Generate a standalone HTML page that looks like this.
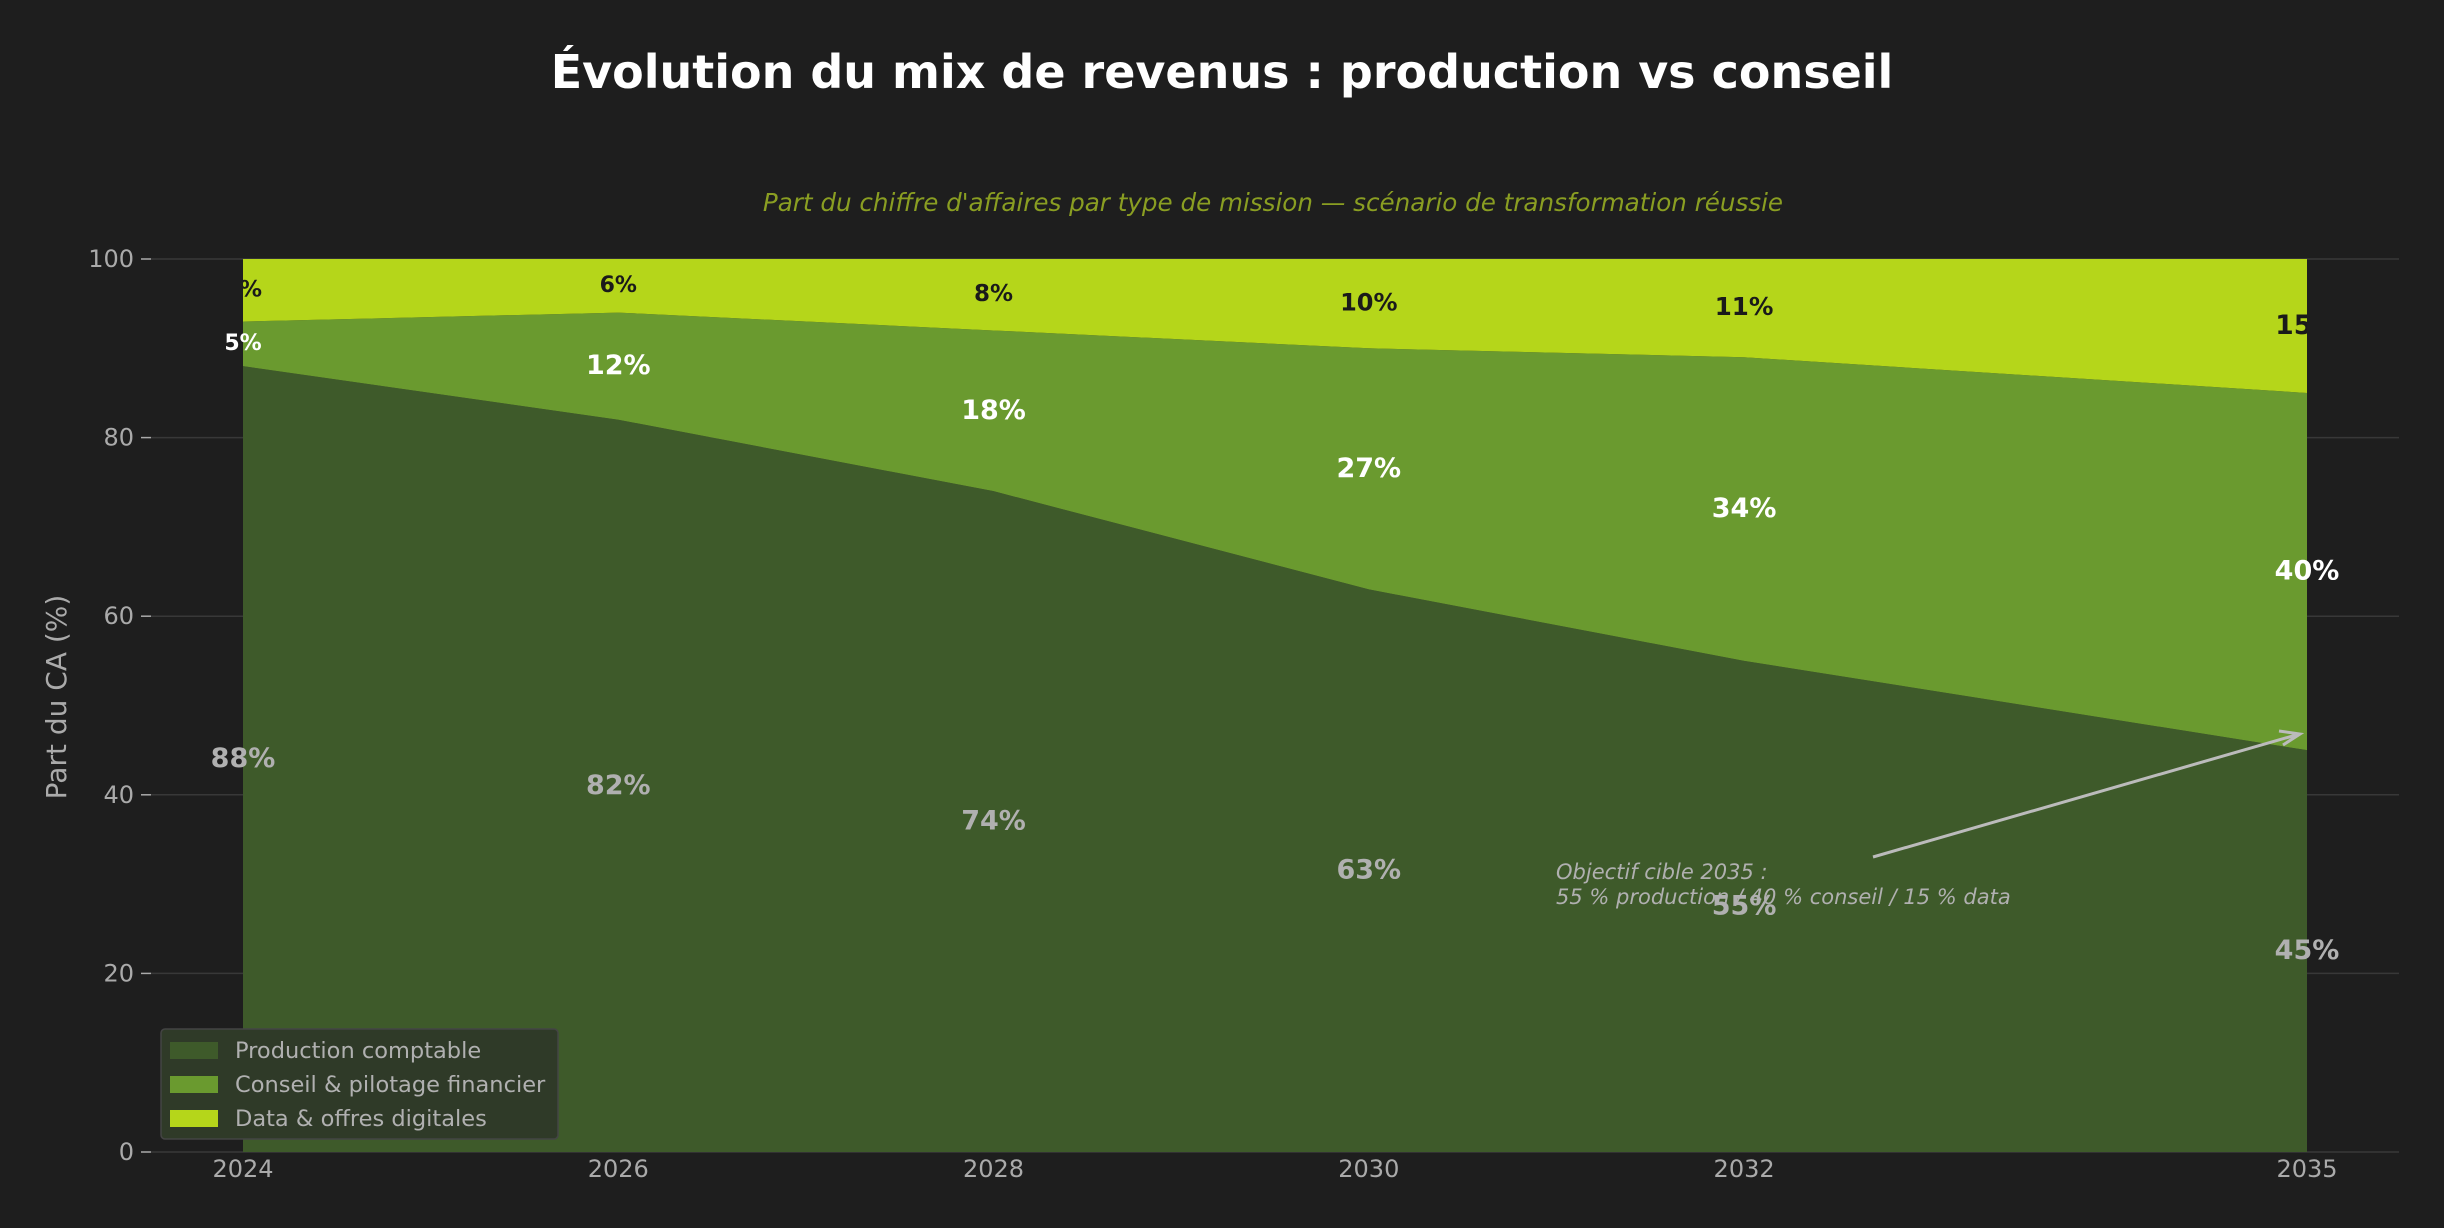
<!DOCTYPE html>
<html><head><meta charset="utf-8"><style>
html,body{margin:0;padding:0;background:#1e1e1e;}
svg{display:block;font-family:"DejaVu Sans","Liberation Sans",sans-serif;}
</style></head><body>
<svg id="chart" width="2444" height="1228" viewBox="0 0 2444 1228" xmlns="http://www.w3.org/2000/svg">
<rect width="2444" height="1228" fill="#1e1e1e"/>
<text x="1222" y="88" text-anchor="middle" fill="#ffffff" font-size="46" font-weight="bold">Évolution du mix de revenus : production vs conseil</text>
<text x="1273" y="211" text-anchor="middle" fill="#8a9e22" font-size="24.6" font-style="italic">Part du chiffre d'affaires par type de mission — scénario de transformation réussie</text>
<defs><clipPath id="plotclip"><rect x="243" y="200" width="2064" height="960"/></clipPath></defs>
<g id="grid"></g>
<g id="areas"></g>
<g id="labels"></g>
<g id="axes"></g>
<text transform="translate(66,697) rotate(-90)" text-anchor="middle" fill="#aaaaaa" font-size="28">Part du CA (%)</text>
<g>
<line x1="1873" y1="857" x2="2296" y2="735" stroke="#bbbbbb" stroke-width="3"/>
<path d="M2279,731 L2300,734 L2283,745" fill="none" stroke="#bbbbbb" stroke-width="3"/>
<text x="1556" y="879" fill="#b0b0b0" font-size="21" font-style="italic">Objectif cible 2035 :</text>
<text x="1556" y="904" fill="#b0b0b0" font-size="21" font-style="italic">55 % production / 40 % conseil / 15 % data</text>
</g>
<g>
<rect x="161" y="1029" width="397" height="110" rx="4" fill="#2f3a28" stroke="#444" stroke-width="1.5"/>
<rect x="170" y="1042" width="48" height="17" fill="#3e5a2a"/>
<text x="235" y="1058" fill="#b0b0b0" font-size="22.5">Production comptable</text>
<rect x="170" y="1076" width="48" height="17" fill="#6a9a2f"/>
<text x="235" y="1092" fill="#b0b0b0" font-size="22.5">Conseil &amp; pilotage financier</text>
<rect x="170" y="1110" width="48" height="17" fill="#b5d61a"/>
<text x="235" y="1126" fill="#b0b0b0" font-size="22.5">Data &amp; offres digitales</text>
</g>
</svg>
<script>
const years = [2024, 2026, 2028, 2030, 2032, 2035];
const production = [88, 82, 74, 63, 55, 45];
const conseil = [5, 12, 18, 27, 34, 40];
const data = [7, 6, 8, 10, 11, 15];
const yTicks = [0, 20, 40, 60, 80, 100];

const NS = 'http://www.w3.org/2000/svg';
const X0 = 243, X1 = 2307, Y0 = 1152, Y1 = 259;
function xs(v){ return X0 + (v - years[0]) / (years[years.length-1] - years[0]) * (X1 - X0); }
function ys(v){ return Y0 - v / 100 * (Y0 - Y1); }
function mk(tag, attrs, parent){ const e = document.createElementNS(NS, tag); for (const k in attrs) e.setAttribute(k, attrs[k]); parent.appendChild(e); return e; }

const grid = document.getElementById('grid');
const axes = document.getElementById('axes');
yTicks.forEach(t => {
  const y = ys(t);
  const g = mk('line', {x1:151, x2:2399, y1:y, y2:y, stroke:'#383838', 'stroke-width':1.5}, grid);
  
  
  const tk = mk('line', {x1:141, x2:151, y1:y, y2:y, stroke:'#aaaaaa', 'stroke-width':1.5}, axes);
  
  
  const lb = mk('text', {x:134, y:y+8, 'text-anchor':'end', fill:'#aaaaaa', 'font-size':24}, axes);
  lb.textContent = t;
  
  
});
years.forEach(yr => {
  const lb = mk('text', {x:xs(yr), y:1177, 'text-anchor':'middle', fill:'#aaaaaa', 'font-size':24}, axes);
  lb.textContent = yr;
  
  
});

const areas = document.getElementById('areas');
const series = [
  {name:'production', vals:production, color:'#3e5a2a'},
  {name:'conseil', vals:conseil, color:'#6a9a2f'},
  {name:'data', vals:data, color:'#b5d61a'}
];
let base = years.map(() => 0);
series.forEach(s => {
  const top = base.map((b,i) => b + s.vals[i]);
  let d = 'M' + years.map((yr,i) => xs(yr) + ',' + ys(top[i])).join(' L');
  for (let i = years.length-1; i >= 0; i--) d += ' L' + xs(years[i]) + ',' + ys(base[i]);
  d += ' Z';
  const p = mk('path', {d:d, fill:s.color}, areas);
  
  
  base = top;
});

const labels = document.getElementById('labels');
const clipG = mk('g', {'clip-path':'url(#plotclip)'}, labels);
years.forEach((yr,i) => {
  const x = xs(yr);
  const t1 = mk('text', {x:x, y:ys(production[i]/2)+8, 'text-anchor':'middle', fill:'#b0b0b0', 'font-size':27, 'font-weight':'bold'}, labels);
  t1.textContent = production[i] + '%';
  
  
  const fs2 = conseil[i] < 10 ? 22 : 27;
  const t2 = mk('text', {x:x, y:ys(production[i] + conseil[i]/2)+fs2*0.37-2, 'text-anchor':'middle', fill:'#ffffff', 'font-size':fs2, 'font-weight':'bold'}, labels);
  t2.textContent = conseil[i] + '%';
  
  
  const fs3 = 19 + data[i]*0.5;
  const t3 = mk('text', {x:x, y:ys(100 - data[i]/2)+fs3*0.37-2, 'text-anchor':'middle', fill:'#1a1a1a', 'font-size':fs3, 'font-weight':'bold'}, clipG);
  t3.textContent = data[i] + '%';
  
  
});
</script>
</body></html>
